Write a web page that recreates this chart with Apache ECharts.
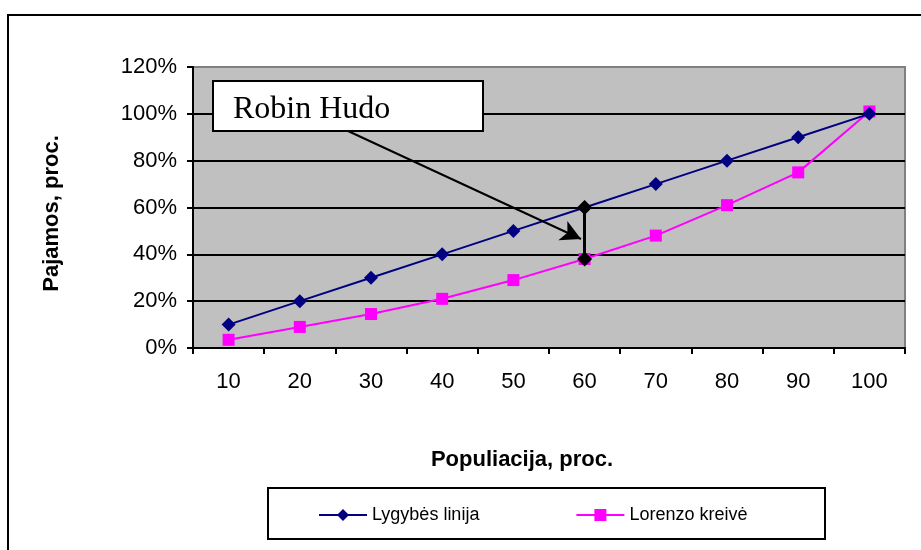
<!DOCTYPE html>
<html>
<head>
<meta charset="utf-8">
<style>
  html, body { margin: 0; padding: 0; background: #fff; }
  #chart { width: 921px; height: 550px; }
</style>
<script src="https://cdn.jsdelivr.net/npm/echarts@6/dist/echarts.min.js"></script>
</head>
<body>
<div id="chart"></div>
<script>
  // data
  const categories = ['10', '20', '30', '40', '50', '60', '70', '80', '90', '100']
  const equalityLine = [10, 20, 30, 40, 50, 60, 70, 80, 90, 100]
  const lorenzoCurve = [3.5, 9, 14.5, 21, 29, 38, 48, 61, 75, 101]
  const yTicks = [0, 20, 40, 60, 80, 100, 120]

  // Robin Hood gap marked at the 60% category
  const gapCategory = '60'
  const gapTop = 60
  const gapBottom = 38

  const chart = echarts.init(document.getElementById('chart'))

  chart.setOption({
    animation: false,
    backgroundColor: '#fff',
    grid: {
      left: 193,
      right: 16,
      top: 67,
      bottom: 202,
      show: true,
      backgroundColor: '#C0C0C0',
      borderColor: '#808080',
      borderWidth: 2
    },
    xAxis: {
      type: 'category',
      data: categories,
      boundaryGap: true,
      name: 'Populiacija, proc.',
      nameLocation: 'middle',
      nameGap: 101,
      nameTextStyle: {
        fontFamily: 'Liberation Sans',
        fontWeight: 'bold',
        fontSize: 22,
        color: '#000',
        padding: [0, 54, 0, 0]
      },
      axisLine: { lineStyle: { color: '#000', width: 2 } },
      axisTick: { show: true, length: 6, lineStyle: { color: '#000', width: 2 } },
      axisLabel: {
        margin: 23,
        fontFamily: 'Liberation Sans',
        fontSize: 22,
        color: '#000'
      }
    },
    yAxis: {
      type: 'value',
      min: yTicks[0],
      max: yTicks[yTicks.length - 1],
      interval: 20,
      name: 'Pajamos, proc.',
      nameLocation: 'middle',
      nameGap: 130,
      nameTextStyle: {
        fontFamily: 'Liberation Sans',
        fontWeight: 'bold',
        fontSize: 22,
        color: '#000',
        padding: [0, 12, 0, 0]
      },
      axisLine: { show: true, lineStyle: { color: '#000', width: 2 } },
      axisTick: { show: true, length: 6, lineStyle: { color: '#000', width: 2 } },
      axisLabel: {
        margin: 16,
        formatter: '{value}%',
        fontFamily: 'Liberation Sans',
        fontSize: 22,
        color: '#000'
      },
      splitLine: {
        show: true,
        lineStyle: {
          color: ['#000', '#000', '#000', '#000', '#000', '#000', '#808080'],
          width: 2
        }
      }
    },
    legend: {
      left: 318,
      top: 506,
      padding: 0,
      itemWidth: 48,
      itemHeight: 15,
      itemGap: 96,
      textStyle: {
        fontFamily: 'Liberation Sans',
        fontSize: 18,
        color: '#000'
      },
      data: ['Lygybės linija', 'Lorenzo kreivė']
    },
    series: [
      {
        name: 'Lygybės linija',
        type: 'line',
        data: equalityLine,
        symbol: 'diamond',
        symbolSize: 14,
        color: '#000080',
        lineStyle: { color: '#000080', width: 2 },
        itemStyle: { color: '#000080' },
        z: 3
      },
      {
        name: 'Lorenzo kreivė',
        type: 'line',
        data: lorenzoCurve,
        symbol: 'rect',
        symbolSize: 12,
        color: '#FF00FF',
        lineStyle: { color: '#FF00FF', width: 2 },
        itemStyle: { color: '#FF00FF' },
        z: 2,
        markLine: {
          silent: true,
          symbol: 'none',
          label: { show: false },
          lineStyle: { color: '#000', width: 3, type: 'solid' },
          data: [
            [{ coord: [gapCategory, gapTop] }, { coord: [gapCategory, gapBottom] }],
            [
              { x: 348, y: 131, symbol: 'none' },
              { x: 581, y: 239, symbol: 'arrow', symbolSize: [16, 20], lineStyle: { width: 2 } }
            ]
          ]
        },
        markPoint: {
          silent: true,
          symbol: 'diamond',
          symbolSize: 15,
          itemStyle: { color: '#000' },
          label: { show: false },
          data: [
            { coord: [gapCategory, gapTop] },
            { coord: [gapCategory, gapBottom] }
          ]
        }
      }
    ],
    graphic: [
      {
        type: 'rect',
        z: -10,
        shape: { x: 8, y: 15, width: 940, height: 560 },
        style: { fill: 'none', stroke: '#000', lineWidth: 2 }
      },
      {
        type: 'rect',
        z: 1,
        shape: { x: 268, y: 488, width: 557, height: 51 },
        style: { fill: '#fff', stroke: '#000', lineWidth: 2 }
      },
      {
        type: 'rect',
        z: 100,
        shape: { x: 213, y: 81, width: 270, height: 50 },
        style: { fill: '#fff', stroke: '#000', lineWidth: 2 }
      },
      {
        type: 'text',
        z: 101,
        x: 233,
        y: 110,
        style: {
          text: 'Robin Hudo',
          fontFamily: 'Liberation Serif',
          fontSize: 32,
          fill: '#000',
          verticalAlign: 'middle'
        }
      }
    ]
  })
</script>
</body>
</html>
